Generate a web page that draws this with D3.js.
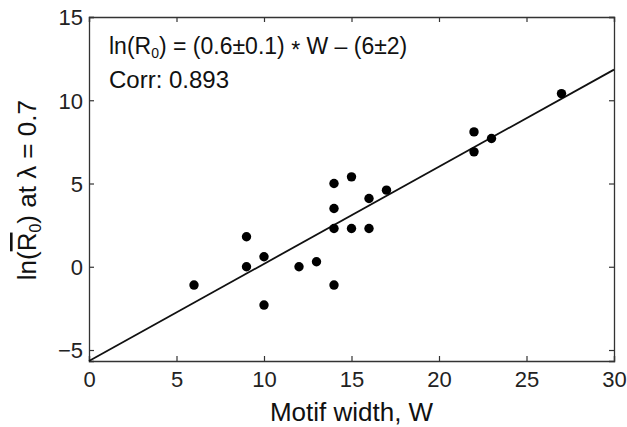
<!DOCTYPE html>
<html><head><meta charset="utf-8">
<script src="https://cdn.jsdelivr.net/npm/d3@7"></script>
<style>body{margin:0;background:#fff}svg{font-family:"Liberation Sans",Arial,sans-serif}</style>
</head><body>
<svg id="c" width="627" height="427"></svg>
<script>
const widths = [6, 9, 9, 10, 10, 12, 13, 14, 14, 14, 14, 15, 15, 16, 16, 17, 22, 22, 23, 27];
const lnR0   = [-1.1, 1.8, 0.0, 0.6, -2.3, 0.0, 0.3, 5.0, 3.5, 2.3, -1.1, 5.4, 2.3, 4.1, 2.3, 4.6, 8.1, 6.9, 7.7, 10.4];
const fitX = [0, 30];
const fitY = [-5.66, 11.84];
const xTicks = [0, 5, 10, 15, 20, 25, 30];
const yTicks = [-5, 0, 5, 10, 15];

const svg = d3.select("#c");
const m = {l: 89, r: 13, t: 17, b: 66};
const W = 627, H = 427;
const x = d3.scaleLinear().domain([0, 30]).range([m.l, W - m.r]);
const y = d3.scaleLinear().domain([-5.66, 15]).range([H - m.b, m.t]);
const ax = "#333";

const gx = svg.append("g").attr("transform", `translate(0,${H - m.b})`)
  .call(d3.axisBottom(x).tickValues(xTicks).tickSize(-5).tickPadding(10));
const gx2 = svg.append("g").attr("transform", `translate(0,${m.t})`)
  .call(d3.axisTop(x).tickValues(xTicks).tickSize(-5).tickFormat(""));
const gy = svg.append("g").attr("transform", `translate(${m.l},0)`)
  .call(d3.axisLeft(y).tickValues(yTicks).tickSize(-5).tickPadding(6));
const gy2 = svg.append("g").attr("transform", `translate(${W - m.r},0)`)
  .call(d3.axisRight(y).tickValues(yTicks).tickSize(-5).tickFormat(""));
[gx, gx2, gy, gy2].forEach(g => {
  g.select(".domain").attr("stroke", ax).attr("stroke-width", 1.3);
  g.selectAll(".tick line").attr("stroke", ax).attr("stroke-width", 1.2);
  g.selectAll(".tick text").attr("fill", "#222").attr("font-size", 22).attr("font-family", "Liberation Sans, Arial, sans-serif");
});
gy.selectAll(".tick text").attr("dy", "0.36em");

svg.append("line")
  .attr("x1", x(fitX[0])).attr("y1", y(fitY[0]))
  .attr("x2", x(fitX[1])).attr("y2", y(fitY[1]))
  .attr("stroke", "#111").attr("stroke-width", 1.8);

svg.append("g").selectAll("circle").data(widths.map((w, i) => [w, lnR0[i]]))
  .join("circle").attr("cx", d => x(d[0])).attr("cy", d => y(d[1])).attr("r", 4.7).attr("fill", "#000");

const eq = svg.append("text").attr("x", 109).attr("y", 54).attr("font-size", 23).attr("fill", "#111");
eq.append("tspan").text("ln(R");
eq.append("tspan").text("0").attr("font-size", 14).attr("dy", 4);
eq.append("tspan").text(") = (0.6\u00b10.1) ").attr("dy", -4);
eq.append("tspan").text("*").attr("dy", 4);
eq.append("tspan").text(" W \u2013 (6\u00b12)").attr("dy", -4);
svg.append("text").attr("x", 109).attr("y", 88).attr("font-size", 24).attr("fill", "#111").text("Corr: 0.893");

svg.append("text").attr("x", x(15)).attr("y", 421).attr("text-anchor", "middle")
  .attr("font-size", 26).attr("fill", "#111").text("Motif width, W");
const yl = svg.append("text").attr("transform", `translate(36,${y(4.6)}) rotate(-90)`)
  .attr("text-anchor", "middle").attr("font-size", 26).attr("fill", "#111");
yl.append("tspan").text("ln(");
yl.append("tspan").text("R").style("text-decoration", "overline");
yl.append("tspan").text("0").attr("font-size", 16).attr("dy", 5);
yl.append("tspan").text(") at \u03bb = 0.7").attr("dy", -5);
</script>
</body></html>
